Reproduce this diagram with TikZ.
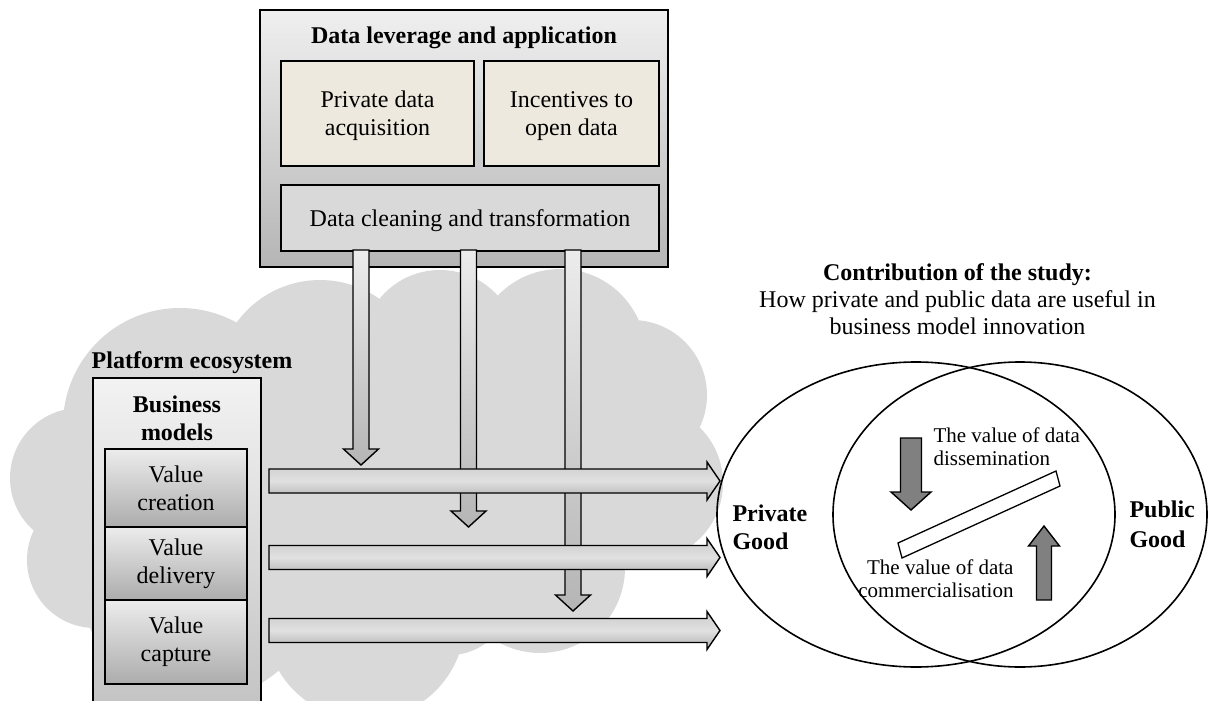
\documentclass[tikz,border=0pt]{standalone}
\usepackage{fontspec}
\setmainfont{Liberation Serif}
\usetikzlibrary{shapes.geometric}
\definecolor{paper}{HTML}{EDE9DE}
\definecolor{cloudgray}{HTML}{D9D9D9}
\definecolor{darkfill}{HTML}{808080}

\begin{document}
\begin{tikzpicture}[x=1pt,y=-1pt]
\tikzset{
    txt/.style={font=\fontsize{24}{28}\selectfont, align=center},
    bold txt/.style={font=\fontsize{24}{28}\selectfont\bfseries, align=center},
    small txt/.style={font=\fontsize{21}{23}\selectfont},
    frame/.style={draw=black, line width=1.6pt, inner sep=0pt},
    value box/.style={frame, txt, top color=gray!15, bottom color=gray!65, minimum width=142pt},
    vbar/.style={draw=black, line width=1.4pt, top color=gray!15, bottom color=gray!58},
    hbar/.style={draw=black, line width=1.4pt, top color=gray!40, bottom color=gray!62, middle color=gray!24},
    darkbar/.style={draw=black, line width=1.4pt, fill=darkfill},
    venn/.style={draw=black, line width=1.6pt, ellipse, inner sep=0pt, minimum height=305pt}
}
%
\useasboundingbox (0,0) rectangle (1208,701);
\clip (0,0) rectangle (1208,701);

% platform ecosystem cloud
\foreach \cx/\cy/\r in {80/478/70, 95/560/68, 180/425/117, 320/383/103, 440/348/78,
    560/355/86, 632/395/75, 645/483/78, 540/568/85, 200/580/120, 365/620/100, 450/595/60}
  \fill[cloudgray] (\cx,\cy) circle (\r pt);
\fill[cloudgray] (100,400) rectangle (600,620);

% data leverage and application
\node[frame, top color=gray!12, bottom color=gray!58, minimum width=408pt, minimum height=257pt] (lev) at (464,138.5) {};
\node[bold txt, anchor=base] (levtitle) at (464,44) {Data leverage and application};
\node[frame, txt, fill=paper, minimum width=193pt, minimum height=105pt, text depth=0pt] (pda) at (377.5,113.5) {Private data\\acquisition};
\node[frame, txt, fill=paper, minimum width=175pt, minimum height=105pt, text depth=0pt] (iod) at (571.5,113.5) {Incentives to\\open data};
\node[frame, txt, fill=cloudgray, minimum width=378pt, minimum height=66pt, text depth=0pt] (dct) at (470,218) {Data cleaning and transformation};

% arrows down into the platform
\foreach \m/\t in {361/465, 468.5/527, 573/611}
  \draw[vbar] (\m-8,250) -- (\m-8,\t-16) -- (\m-17.5,\t-16) -- (\m,\t) -- (\m+17.5,\t-16) -- (\m+8,\t-16) -- (\m+8,250) -- cycle;

% arrows out to the private good
\foreach \c in {481, 557.5, 630.5}
  \draw[hbar] (269,\c-12) -- (707,\c-12) -- (707,\c-19) -- (720,\c) -- (707,\c+19) -- (707,\c+12) -- (269,\c+12) -- cycle;

% business models
\node[bold txt, anchor=base] (plat) at (192,368) {Platform ecosystem};
\node[frame, top color=gray!10, bottom color=gray!48, minimum width=168pt, minimum height=342pt] (bm) at (177,549) {};
\node[bold txt] (bmtitle) at (177,418) {Business\\models};
\node[value box, minimum height=78pt] (vc) at (176,488) {Value\\creation};
\node[value box, minimum height=73pt] (vd) at (176,563.5) {Value\\delivery};
\node[value box, minimum height=84pt] (vcap) at (176,642) {Value\\capture};

% contribution
\node[txt, anchor=base, font=\fontsize{24}{27}\selectfont] (contr) at (957.5,334)
  {\textbf{Contribution of the study:}\\How private and public data are useful in\\business model innovation};
\node[venn, minimum width=398pt] (priv) at (916,514.5) {};
\node[venn, minimum width=374pt] (pub) at (1020,514.5) {};
\node[bold txt, align=left, anchor=base west] (privlbl) at (729,549) {Private\\Good};
\node[bold txt, align=left, anchor=base west, font=\fontsize{24}{30}\selectfont\bfseries] (publbl) at (1126,547) {Public\\Good};

% seesaw between dissemination and commercialisation
\draw[darkbar] (900.5,438) -- (900.5,492) -- (891,492) -- (911,510) -- (931,492) -- (921.5,492) -- (921.5,438) -- cycle;
\draw[darkbar] (1036.5,600) -- (1036.5,546) -- (1028.5,546) -- (1044,526) -- (1059.5,546) -- (1051.5,546) -- (1051.5,600) -- cycle;
\draw[fill=white, line width=1.3pt] (898,543) -- (902,558) -- (1060,486) -- (1056,471) -- cycle;
\node[small txt, align=left, anchor=base west] (dissem) at (930,465) {The value of data\\dissemination};
\node[small txt, align=right, anchor=base east] (commer) at (1017,597) {The value of data\\commercialisation};
\end{tikzpicture}
\end{document}
